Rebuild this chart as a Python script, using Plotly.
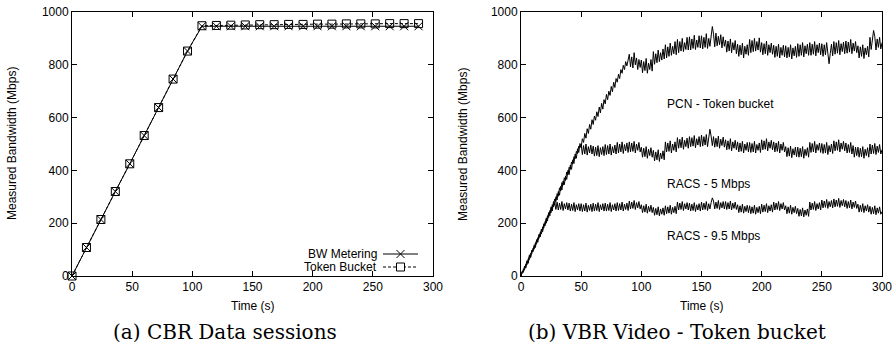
import plotly.graph_objects as go

# ---------------- data: (a) CBR Data sessions ----------------
t_cbr = [0, 12, 24, 36, 48, 60, 72, 84, 96, 108, 120, 132, 144, 156, 168,
         180, 192, 204, 216, 228, 240, 252, 264, 276, 288]
bw_metering = [0, 108, 214, 320, 425, 532, 638, 746, 852, 946, 946, 946, 946,
               946, 946, 946, 946, 946, 946, 946, 946, 946, 946, 946, 946]
token_bucket = [0, 108, 214, 320, 425, 532, 638, 746, 852, 948, 949, 950, 951,
                952, 952, 953, 953, 954, 954, 955, 955, 955, 956, 956, 956]

# ---------------- data: (b) VBR Video - Token bucket ----------------
t_vbr = list(range(0, 301))
pcn_token_bucket = [
    0, 18, 14, 38, 30, 58, 48, 80, 70, 98,
    92, 118, 108, 138, 128, 158, 148, 178, 168, 198,
    190, 220, 208, 240, 228, 262, 246, 282, 268, 300,
    288, 320, 306, 340, 326, 360, 346, 378, 366, 400,
    384, 420, 404, 440, 426, 462, 446, 482, 468, 502,
    488, 520, 506, 540, 522, 558, 540, 574, 556, 592,
    574, 606, 590, 622, 604, 640, 618, 654, 632, 668,
    652, 688, 668, 700, 684, 718, 698, 734, 714, 748,
    734, 764, 748, 782, 768, 798, 782, 812, 796, 826,
    840, 792, 830, 788, 846, 800, 826, 782, 820, 790,
    818, 770, 812, 778, 824, 768, 806, 782, 820, 776,
    850, 802, 842, 808, 856, 812, 846, 818, 860, 822,
    876, 826, 868, 832, 882, 836, 870, 842, 888, 838,
    896, 846, 888, 852, 900, 850, 884, 858, 904, 856,
    906, 856, 898, 862, 912, 858, 894, 866, 910, 864,
    910, 860, 904, 866, 918, 862, 900, 870, 922, 945,
    916, 868, 920, 872, 908, 876, 914, 864, 906, 870,
    894, 848, 890, 852, 898, 846, 884, 856, 892, 842,
    878, 832, 874, 838, 882, 826, 870, 840, 876, 836,
    896, 846, 892, 850, 900, 852, 888, 856, 902, 848,
    884, 838, 880, 842, 890, 836, 876, 846, 882, 840,
    874, 828, 870, 832, 878, 826, 866, 836, 874, 830,
    872, 826, 866, 830, 876, 822, 864, 834, 870, 828,
    880, 832, 876, 836, 884, 830, 872, 842, 878, 836,
    884, 836, 878, 840, 888, 834, 876, 846, 882, 838,
    880, 832, 876, 838, 884, 828, 804, 842, 878, 834,
    888, 840, 884, 844, 892, 838, 880, 850, 886, 842,
    890, 844, 886, 848, 896, 842, 882, 852, 888, 846,
    872, 826, 868, 832, 876, 824, 864, 838, 870, 830,
    904, 858, 900, 930, 908, 856, 898, 866, 904, 860,
    884,
]
racs_5 = [
    0, 10, 26, 24, 46, 42, 66, 62, 86, 84,
    106, 102, 126, 122, 146, 142, 166, 160, 186, 182,
    206, 200, 228, 222, 248, 240, 270, 262, 292, 282,
    312, 302, 334, 322, 354, 344, 372, 362, 394, 384,
    412, 404, 432, 424, 452, 444, 472, 464, 492, 486,
    498, 460, 494, 462, 500, 458, 490, 466, 496, 462,
    492, 454, 488, 456, 494, 452, 486, 460, 490, 456,
    498, 460, 494, 462, 500, 458, 490, 466, 496, 462,
    506, 466, 500, 470, 508, 464, 498, 474, 504, 468,
    508, 470, 504, 472, 510, 466, 500, 476, 506, 470,
    488, 450, 484, 452, 490, 446, 480, 456, 486, 450,
    476, 436, 470, 440, 478, 434, 466, 444, 474, 440,
    508, 470, 504, 472, 512, 466, 500, 476, 508, 470,
    524, 484, 518, 486, 526, 480, 514, 490, 522, 484,
    528, 490, 524, 492, 532, 486, 520, 496, 528, 490,
    534, 492, 528, 496, 536, 490, 524, 556, 530, 494,
    528, 488, 522, 490, 530, 484, 518, 494, 526, 488,
    516, 478, 512, 480, 520, 474, 508, 484, 514, 478,
    508, 470, 504, 472, 510, 466, 500, 476, 506, 470,
    506, 468, 502, 470, 510, 466, 498, 476, 504, 468,
    516, 478, 512, 480, 520, 474, 508, 484, 514, 478,
    508, 470, 504, 472, 510, 466, 500, 476, 506, 470,
    490, 452, 486, 454, 492, 448, 482, 458, 488, 452,
    488, 450, 484, 452, 490, 446, 480, 456, 486, 450,
    506, 468, 502, 470, 510, 466, 498, 476, 504, 468,
    502, 464, 498, 466, 506, 460, 494, 470, 500, 464,
    512, 474, 508, 476, 516, 470, 504, 480, 510, 474,
    504, 466, 498, 468, 506, 462, 494, 450, 488, 456,
    488, 450, 484, 452, 490, 446, 480, 456, 486, 450,
    500, 462, 496, 464, 502, 460, 492, 468, 498, 462,
    478,
]
racs_9_5 = [
    0, 16, 16, 36, 34, 56, 54, 76, 72, 96,
    96, 114, 116, 134, 136, 156, 154, 176, 174, 196,
    196, 216, 218, 238, 238, 258, 256, 274, 276, 252,
    280, 250, 276, 252, 282, 248, 274, 254, 278, 250,
    276, 246, 272, 248, 278, 244, 270, 250, 274, 246,
    274, 244, 270, 246, 276, 242, 268, 248, 272, 244,
    276, 246, 272, 248, 278, 244, 270, 250, 274, 246,
    276, 246, 272, 248, 278, 244, 270, 250, 274, 246,
    278, 248, 274, 250, 280, 246, 272, 252, 276, 248,
    284, 254, 280, 256, 286, 252, 278, 258, 282, 254,
    270, 240, 266, 242, 272, 238, 264, 244, 268, 240,
    260, 230, 256, 232, 262, 228, 254, 234, 258, 230,
    266, 236, 262, 238, 268, 234, 260, 240, 264, 236,
    280, 250, 276, 252, 282, 248, 274, 254, 278, 250,
    276, 246, 272, 248, 278, 244, 270, 250, 274, 246,
    280, 250, 276, 252, 282, 248, 274, 254, 278, 296,
    284, 254, 280, 256, 286, 252, 278, 258, 282, 254,
    282, 252, 278, 254, 284, 250, 276, 256, 280, 252,
    270, 240, 266, 242, 272, 238, 264, 244, 268, 240,
    266, 236, 262, 238, 268, 234, 260, 240, 264, 236,
    272, 242, 268, 244, 274, 240, 266, 246, 270, 242,
    280, 250, 276, 252, 282, 248, 274, 254, 278, 250,
    266, 236, 262, 238, 268, 234, 260, 240, 264, 236,
    256, 226, 252, 228, 258, 224, 250, 230, 254, 226,
    280, 250, 276, 252, 282, 248, 274, 254, 278, 250,
    288, 258, 284, 260, 290, 256, 282, 262, 286, 258,
    292, 262, 288, 264, 294, 260, 286, 266, 290, 262,
    286, 256, 282, 258, 288, 254, 280, 260, 284, 256,
    272, 242, 268, 244, 274, 240, 266, 246, 270, 242,
    264, 234, 260, 236, 266, 232, 258, 238, 262, 234,
    244,
]

x_ticks = [0, 50, 100, 150, 200, 250, 300]
y_ticks = [0, 200, 400, 600, 800, 1000]
series_labels = ["PCN - Token bucket", "RACS - 5 Mbps", "RACS - 9.5 Mbps"]
label_pos_t = 120
label_pos_y = [650, 350, 150]

# ---------------- figure ----------------
W, H = 893, 347
SANS = "Liberation Sans, Arial, Helvetica, sans-serif"
SERIF = "DejaVu Serif, serif"

def px(x):
    return x / W

def py(y):
    return 1 - y / H

fig = go.Figure()

fig.add_trace(go.Scatter(
    x=t_cbr, y=bw_metering, mode="lines+markers", name="BW Metering",
    line=dict(color="black", width=1),
    marker=dict(symbol="x-thin-open", size=8, line=dict(color="black", width=1)),
    cliponaxis=False, xaxis="x", yaxis="y", showlegend=False))
fig.add_trace(go.Scatter(
    x=t_cbr, y=token_bucket, mode="lines+markers", name="Token Bucket",
    line=dict(color="black", width=1, dash="3px,2px"),
    marker=dict(symbol="square-open", size=8, line=dict(color="black", width=1)),
    cliponaxis=False, xaxis="x", yaxis="y", showlegend=False))

for name, vals in zip(series_labels, [pcn_token_bucket, racs_5, racs_9_5]):
    fig.add_trace(go.Scatter(
        x=t_vbr, y=vals, mode="lines", name=name,
        line=dict(color="black", width=1),
        xaxis="x2", yaxis="y2", showlegend=False))

axis_common = dict(
    showline=True, linecolor="black", linewidth=1, mirror="ticks",
    ticks="inside", ticklen=5, tickwidth=1, tickcolor="black",
    showgrid=False, zeroline=False, automargin=False,
    tickfont=dict(family=SANS, size=12, color="black"),
)

yd = [py(276), py(12)]
fig.update_layout(
    width=W, height=H,
    margin=dict(l=0, r=0, t=0, b=0),
    paper_bgcolor="white", plot_bgcolor="white",
    xaxis=dict(domain=[px(72), px(433)], range=[0, 300], tickvals=x_ticks,
               anchor="y", **axis_common),
    yaxis=dict(domain=yd, range=[0, 1000], tickvals=y_ticks,
               anchor="x", **axis_common),
    xaxis2=dict(domain=[px(521), px(882)], range=[0, 300], tickvals=x_ticks,
                anchor="y2", **axis_common),
    yaxis2=dict(domain=yd, range=[0, 1000], tickvals=y_ticks,
                anchor="x2", **axis_common),
)

ann = []
def paper_text(x, y, text, size=12, family=SANS, angle=0, xanchor="center"):
    ann.append(dict(x=x, y=y, xref="paper", yref="paper", text=text,
                    textangle=angle, xanchor=xanchor, yanchor="middle",
                    showarrow=False,
                    font=dict(family=family, size=size, color="black")))

# axis titles
for xc in [px(12), px(463)]:
    paper_text(xc, py(144), "Measured Bandwidth (Mbps)", angle=-90)
for xc in [px(252.5), px(701.5)]:
    paper_text(xc, py(306), "Time (s)")
# captions
paper_text(px(225), py(332), "(a) CBR Data sessions", size=20, family=SERIF)
paper_text(px(677), py(332), "(b) VBR Video - Token bucket", size=20, family=SERIF)
# series labels in (b)
for lbl, yv in zip(series_labels, label_pos_y):
    ann.append(dict(x=label_pos_t, y=yv, xref="x2", yref="y2", text=lbl,
                    xanchor="left", yanchor="middle", showarrow=False,
                    font=dict(family=SANS, size=12, color="black")))
# manual gnuplot-style legend in (a)
leg_rows = [("BW Metering", 254), ("Token Bucket", 267)]
for lbl, yy in leg_rows:
    paper_text(px(379), py(yy), lbl, xanchor="right")
fig.update_layout(annotations=ann)

shapes = []
# legend key: BW Metering (solid line with x)
yy = 254
shapes.append(dict(type="line", xref="paper", yref="paper",
                   x0=px(383), x1=px(418), y0=py(yy), y1=py(yy),
                   line=dict(color="black", width=1)))
shapes.append(dict(type="line", xref="paper", yref="paper",
                   x0=px(396.5), x1=px(404.5), y0=py(yy - 4), y1=py(yy + 4),
                   line=dict(color="black", width=1)))
shapes.append(dict(type="line", xref="paper", yref="paper",
                   x0=px(396.5), x1=px(404.5), y0=py(yy + 4), y1=py(yy - 4),
                   line=dict(color="black", width=1)))
# legend key: Token Bucket (dashed line with square)
yy = 267
shapes.append(dict(type="line", xref="paper", yref="paper",
                   x0=px(383), x1=px(418), y0=py(yy), y1=py(yy),
                   line=dict(color="black", width=1, dash="3px,2px")))
shapes.append(dict(type="rect", xref="paper", yref="paper",
                   x0=px(396.5), x1=px(404.5), y0=py(yy + 4), y1=py(yy - 4),
                   line=dict(color="black", width=1), fillcolor="white"))
fig.update_layout(shapes=shapes)

fig.write_html(
    "out.html",
    config={"displayModeBar": False},
    post_script="document.body.style.margin='0';document.body.style.overflow='hidden';",
)
